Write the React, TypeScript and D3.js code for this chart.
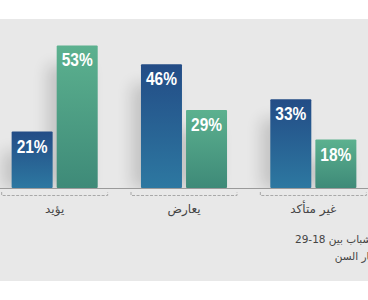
import React from "react";
import * as d3 from "d3";

const categories = ["يؤيد", "يعارض", "غير متأكد"];
const seriesNames = ["الشباب بين 18-29", "كبار السن"];
const youth = [21, 46, 33];
const elders = [53, 29, 18];

const W = 368;
const H = 300;
const baseY = 188;

export default function App() {
  const x0 = d3.scaleBand<string>().domain(categories).range([-10, 378]).paddingInner(0).paddingOuter(0);
  const x1 = d3
    .scaleBand<string>()
    .domain(seriesNames)
    .range([0, x0.bandwidth()])
    .paddingInner(0.09)
    .paddingOuter(0.48);
  const y = d3.scaleLinear().domain([0, 70]).range([baseY, baseY - 70 * 2.69]);

  const series = [
    { name: seriesNames[0], values: youth, grad: "gBlue" },
    { name: seriesNames[1], values: elders, grad: "gGreen" },
  ];

  return (
    <svg width={W} height={H} style={{ position: "absolute", left: 0, top: 0 }}>
      <defs>
        <linearGradient id="gBlue" x1="0" y1="0" x2="0" y2="1">
          <stop offset="0%" stopColor="#234c86" />
          <stop offset="100%" stopColor="#2d78a1" />
        </linearGradient>
        <linearGradient id="gGreen" x1="0" y1="0" x2="0" y2="1">
          <stop offset="0%" stopColor="#5cb18f" />
          <stop offset="100%" stopColor="#3e8a78" />
        </linearGradient>
        <filter id="shadow" x="-100%" y="-50%" width="300%" height="200%">
          <feGaussianBlur stdDeviation="8" />
        </filter>
      </defs>
      <rect x={0} y={0} width={W} height={H} fill="#ffffff" />
      <rect x={0} y={19} width={W} height={262} fill="#e8e8e8" />

      {categories.map((c, ci) =>
        series.map((s) => {
          const bx = (x0(c) ?? 0) + (x1(s.name) ?? 0);
          const v = s.values[ci];
          return (
            <rect
              key={"sh" + c + s.name}
              x={bx - 9}
              y={y(v) + 20}
              width={x1.bandwidth()}
              height={baseY - y(v) - 20}
              fill="#000"
              opacity={0.16}
              filter="url(#shadow)"
            />
          );
        })
      )}
      <rect x={0} y={baseY + 1} width={W} height={H - baseY - 19 - 1} fill="#e8e8e8" />

      {categories.map((c, ci) =>
        series.map((s) => {
          const bx = (x0(c) ?? 0) + (x1(s.name) ?? 0);
          const v = s.values[ci];
          return (
            <g key={c + s.name}>
              <rect
                x={bx}
                y={y(v)}
                width={x1.bandwidth()}
                height={baseY - y(v)}
                fill={`url(#${s.grad})`}
                rx={1}
              />
              <text
                x={bx + x1.bandwidth() / 2 - 15.5}
                y={y(v) + 21}
                textLength={31}
                lengthAdjust="spacingAndGlyphs"
                fill="#ffffff"
                fontFamily="'Liberation Sans', Arial, sans-serif"
                fontWeight="bold"
                fontSize={19}
              >
                {v}%
              </text>
            </g>
          );
        })
      )}

      <line x1={0} x2={W} y1={baseY + 0.5} y2={baseY + 0.5} stroke="#9a9a9a" strokeWidth={1} />

      {categories.map((c) => {
        const cx = (x0(c) ?? 0) + x0.bandwidth() / 2;
        const half = 53.5;
        return (
          <g key={"br" + c}>
            <path
              d={`M${cx - half + 0.5},${192}V${195.5}H${cx + half - 0.5}V${192}`}
              fill="none"
              stroke="#a8a8a8"
              strokeWidth={1}
              strokeDasharray="3,1.5"
            />
            <text
              x={cx}
              y={213}
              textAnchor="middle"
              fill="#444"
              fontFamily="'DejaVu Sans', sans-serif"
              fontSize={12}
            >
              {c}
            </text>
          </g>
        );
      })}

      {seriesNames.map((n, i) => (
        <text
          key={n}
          x={378}
          y={243 + i * 17}
          textAnchor="end"
          fill="#444"
          fontFamily="'DejaVu Sans', sans-serif"
          fontSize={10.5}
        >
          {n}
        </text>
      ))}
    </svg>
  );
}
